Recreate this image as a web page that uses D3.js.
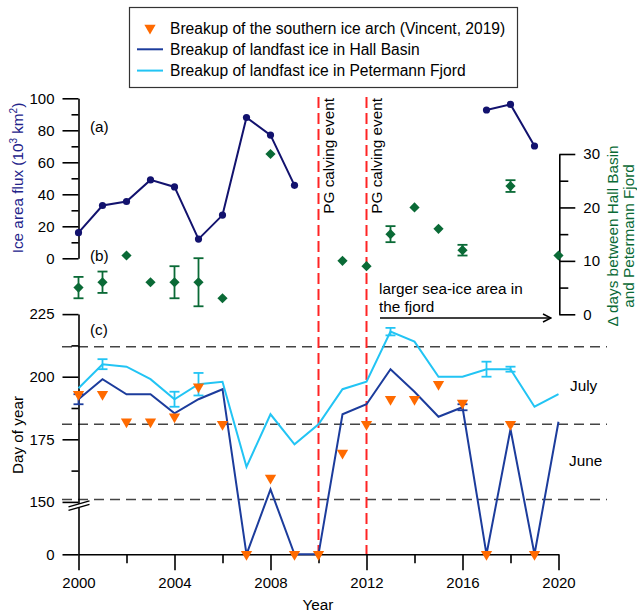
<!DOCTYPE html>
<html>
<head>
<meta charset="utf-8">
<script src="https://cdn.jsdelivr.net/npm/d3@7"></script>
<style>
  body { margin: 0; background: #fff; }
  svg { font-family: "Liberation Sans", Arial, sans-serif; }
</style>
</head>
<body>
<div id="chart"></div>
<script>
var years = d3.range(2000, 2021);

// (a) ice area flux through Hall Basin, 10^3 km2 (null = no data)
var flux = [16, 33, 35.5, 49, 44.6, 12, 27, 88, 77, 45.6,
  null, null, null, null, null, null, null, 92.7, 96.2, 70.2, null];

// (b) delta days between Hall Basin and Petermann Fjord
var deltaDays = [5, 6, 11, 6, 6, 6, 3, null, 30, null,
  null, 10, 9, 15, 20, 16, 12, null, 24, null, 11];
var deltaErr = [2, 2, 0, 0, 3, 4.5, 0, 0, 0, 0,
  0, 0, 0, 1.5, 0, 0, 1, 0, 1.1, 0, 0];

// (c) day of year of breakup (0 = no breakup)
var hallBasin = [191, 199, 193, 193, 185.4, 191, 195, 0, 155, 0,
  0, 185, 189, 203, 194, 184, 187.8, 0, 179, 0, 182];
var hallErr = [2, 0, 0, 0, 0, 0, 0, 0, 0, 0,
  0, 0, 0, 0, 0, 0, 1.2, 0, 0, 0, 0];
var petermann = [195.4, 205, 204, 199, 191, 197, 198, 164, 185, 173,
  181, 195, 198, 218, 214, 200, 200, 203, 203, 188, 193];
var peterErr = [0, 2, 0, 0, 3, 4.5, 0, 0, 0, 0,
  0, 0, 0, 1.5, 0, 0, 0, 3, 1, 0, 0];
var vincent = [193, 193, 182, 182, 184, 196, 181, 0, 159.5, 0,
  0, 169.5, 181, 191, 191, 197, 189.5, 0, 181, 0, null];

var calvingYears = [2010, 2012];
var monthLines = [151, 181, 212];
var legendLabels = ["Breakup of the southern ice arch (Vincent, 2019)",
  "Breakup of landfast ice in Hall Basin",
  "Breakup of landfast ice in Petermann Fjord"];

var navy = "#12126e", hallColor = "#1c3c9c", cyan = "#22c4f4",
  green = "#0a6a36", orange = "#ff6a00", red = "#ff2424";

var width = 637, height = 614;

var svg = d3.select("#chart").append("svg")
  .attr("width", width)
  .attr("height", height);

var x = d3.scaleLinear().domain([2000, 2020]).range([78.5, 558.5]);
var yA = d3.scaleLinear().domain([0, 100]).range([258.3, 98.3]);
var yB = d3.scaleLinear().domain([0, 30]).range([314.3, 154]);
var yC = d3.scaleLinear().domain([0, 150, 225]).range([554.3, 501.9, 314.1]);

function styleAxis(g) {
  g.selectAll("path, line").attr("stroke", "#000").attr("stroke-width", 1.6);
  g.selectAll("text").attr("font-size", 15).attr("font-family", "Liberation Sans, Arial, sans-serif").attr("fill", "#000");
}

// month reference lines
svg.selectAll(".month")
  .data(monthLines)
  .enter().append("line")
    .attr("x1", 62).attr("x2", 607)
    .attr("y1", function(d) { return yC(d); })
    .attr("y2", function(d) { return yC(d); })
    .attr("stroke", "#444")
    .attr("stroke-width", 1.5)
    .attr("stroke-dasharray", "10,6");

// calving events
svg.selectAll(".calving")
  .data(calvingYears)
  .enter().append("line")
    .attr("x1", function(d) { return x(d); })
    .attr("x2", function(d) { return x(d); })
    .attr("y1", 97).attr("y2", 554)
    .attr("stroke", red)
    .attr("stroke-width", 2)
    .attr("stroke-dasharray", "11,5");

svg.selectAll(".calvingLabel")
  .data(calvingYears)
  .enter().append("text")
    .attr("transform", function(d) { return "translate(" + (x(d) + 15) + ",98) rotate(-90)"; })
    .attr("text-anchor", "end")
    .attr("font-size", 15.3)
    .text("PG calving event");

// ---- panel (a)
var axA = svg.append("g").attr("transform", "translate(" + x(2000) + ",0)")
  .call(d3.axisLeft(yA).tickValues([0, 20, 40, 60, 80, 100]).tickSize(16).tickSizeOuter(0).tickPadding(8));
svg.append("g").attr("transform", "translate(" + x(2000) + ",0)")
  .call(d3.axisLeft(yA).tickValues([10, 30, 50, 70, 90]).tickSize(7).tickFormat(""))
  .call(function(g) { g.select(".domain").remove(); })
  .call(styleAxis);
axA.call(styleAxis);

var fluxData = years.map(function(y, i) { return {year: y, value: flux[i]}; });
var lineA = d3.line()
  .defined(function(d) { return d.value != null; })
  .x(function(d) { return x(d.year); })
  .y(function(d) { return yA(d.value); });

svg.append("path")
  .datum(fluxData)
  .attr("d", lineA)
  .attr("fill", "none")
  .attr("stroke", navy)
  .attr("stroke-width", 2);

svg.selectAll(".fluxDot")
  .data(fluxData.filter(function(d) { return d.value != null; }))
  .enter().append("circle")
    .attr("cx", function(d) { return x(d.year); })
    .attr("cy", function(d) { return yA(d.value); })
    .attr("r", 3.6)
    .attr("fill", navy);

svg.append("text")
  .attr("transform", "translate(23,178) rotate(-90)")
  .attr("text-anchor", "middle")
  .attr("font-size", 15.3)
  .attr("fill", "#23238a")
  .html("Ice area flux (10<tspan dy='-6' font-size='10'>3</tspan><tspan dy='6'> km</tspan><tspan dy='-6' font-size='10'>2</tspan><tspan dy='6'>)</tspan>");

// ---- panel (b)
var axB = svg.append("g").attr("transform", "translate(559.3,0)")
  .call(d3.axisRight(yB).tickValues([0, 10, 20, 30]).tickSize(16).tickSizeOuter(0).tickPadding(8));
svg.append("g").attr("transform", "translate(559.3,0)")
  .call(d3.axisRight(yB).tickValues([5, 15, 25]).tickSize(9).tickFormat(""))
  .call(function(g) { g.select(".domain").remove(); })
  .call(styleAxis);
axB.call(styleAxis);

var deltaData = years.map(function(y, i) { return {year: y, value: deltaDays[i], err: deltaErr[i]}; })
  .filter(function(d) { return d.value != null; });

var errB = svg.selectAll(".errB")
  .data(deltaData.filter(function(d) { return d.err > 0; }))
  .enter().append("g")
    .attr("stroke", green)
    .attr("stroke-width", 1.8);
errB.append("line")
  .attr("x1", function(d) { return x(d.year); })
  .attr("x2", function(d) { return x(d.year); })
  .attr("y1", function(d) { return yB(d.value - d.err); })
  .attr("y2", function(d) { return yB(d.value + d.err); });
errB.selectAll(".cap")
  .data(function(d) { return [[d.year, d.value - d.err], [d.year, d.value + d.err]]; })
  .enter().append("line")
    .attr("x1", function(d) { return x(d[0]) - 5; })
    .attr("x2", function(d) { return x(d[0]) + 5; })
    .attr("y1", function(d) { return yB(d[1]); })
    .attr("y2", function(d) { return yB(d[1]); });

svg.selectAll(".diamond")
  .data(deltaData)
  .enter().append("path")
    .attr("d", d3.symbol(d3.symbolSquare).size(52))
    .attr("transform", function(d) { return "translate(" + x(d.year) + "," + yB(d.value) + ") rotate(45)"; })
    .attr("fill", green);

var rTitle = svg.append("text")
  .attr("transform", "translate(618,236) rotate(-90)")
  .attr("text-anchor", "middle")
  .attr("font-size", 15.3)
  .attr("fill", green);
rTitle.append("tspan").attr("x", 0).attr("dy", 0).text("Δ days between Hall Basin");
rTitle.append("tspan").attr("x", 0).attr("dy", 16).text("and Petermann Fjord");

svg.append("defs").append("marker")
  .attr("id", "arrow")
  .attr("viewBox", "0 0 10 10")
  .attr("refX", 9).attr("refY", 5)
  .attr("markerWidth", 10).attr("markerHeight", 10)
  .attr("markerUnits", "userSpaceOnUse")
  .attr("orient", "auto")
  .append("path")
    .attr("d", "M1,1 L9,5 L1,9")
    .attr("fill", "none")
    .attr("stroke", "#000")
    .attr("stroke-width", 1.5);

svg.append("line")
  .attr("x1", 380).attr("x2", 551)
  .attr("y1", 318).attr("y2", 318)
  .attr("stroke", "#000")
  .attr("stroke-width", 1.5)
  .attr("marker-end", "url(#arrow)");

svg.append("text").attr("x", 379).attr("y", 294).attr("font-size", 15.3).text("larger sea-ice area in");
svg.append("text").attr("x", 379).attr("y", 312).attr("font-size", 15.3).text("the fjord");

// ---- panel (c)
var axC = svg.append("g").attr("transform", "translate(" + x(2000) + ",0)")
  .call(d3.axisLeft(yC).tickValues([0, 150, 175, 200, 225]).tickSize(16).tickSizeOuter(0).tickPadding(8));
svg.append("g").attr("transform", "translate(" + x(2000) + ",0)")
  .call(d3.axisLeft(yC).tickValues([162.5, 187.5, 212.5]).tickSize(7).tickFormat(""))
  .call(function(g) { g.select(".domain").remove(); })
  .call(styleAxis);
axC.call(styleAxis);

var axX = svg.append("g").attr("transform", "translate(0," + yC(0) + ")")
  .call(d3.axisBottom(x).tickValues(d3.range(2000, 2021, 2)).tickSize(16).tickSizeOuter(0).tickPadding(7)
    .tickFormat(function(d) { return d % 4 === 0 ? d : ""; }));
axX.selectAll(".tick line").attr("y2", function(d) { return d % 4 === 0 ? 16 : 9; });
axX.call(styleAxis);

// axis break marks
var bx = x(2000);
svg.append("path")
  .attr("d", "M" + (bx - 10) + "," + (yC(150) + 5) + " L" + (bx + 11) + "," + (yC(150) - 1) +
    " L" + (bx + 11) + "," + (yC(150) + 2.5) + " L" + (bx - 10) + "," + (yC(150) + 8.5) + "Z")
  .attr("fill", "#fff");
svg.selectAll(".brk")
  .data([0, 3.5])
  .enter().append("line")
    .attr("x1", bx - 10).attr("x2", bx + 11)
    .attr("y1", function(d) { return yC(150) + 5 + d; })
    .attr("y2", function(d) { return yC(150) - 1 + d; })
    .attr("stroke", "#000")
    .attr("stroke-width", 1.4);

var hallData = years.map(function(y, i) { return {year: y, value: hallBasin[i], err: hallErr[i]}; });
var peterData = years.map(function(y, i) { return {year: y, value: petermann[i], err: peterErr[i]}; });
var vincentData = years.map(function(y, i) { return {year: y, value: vincent[i]}; })
  .filter(function(d) { return d.value != null; });

var lineC = d3.line()
  .x(function(d) { return x(d.year); })
  .y(function(d) { return yC(d.value); });

function errorBars(data, color) {
  var g = svg.append("g")
    .attr("stroke", color)
    .attr("stroke-width", 1.8);
  var e = g.selectAll("g")
    .data(data.filter(function(d) { return d.err > 0; }))
    .enter().append("g");
  e.append("line")
    .attr("x1", function(d) { return x(d.year); })
    .attr("x2", function(d) { return x(d.year); })
    .attr("y1", function(d) { return yC(d.value - d.err); })
    .attr("y2", function(d) { return yC(d.value + d.err); });
  e.selectAll(".cap")
    .data(function(d) { return [[d.year, d.value - d.err], [d.year, d.value + d.err]]; })
    .enter().append("line")
      .attr("x1", function(d) { return x(d[0]) - 5; })
      .attr("x2", function(d) { return x(d[0]) + 5; })
      .attr("y1", function(d) { return yC(d[1]); })
      .attr("y2", function(d) { return yC(d[1]); });
}

svg.append("path")
  .datum(peterData)
  .attr("d", lineC)
  .attr("fill", "none")
  .attr("stroke", cyan)
  .attr("stroke-width", 2);
errorBars(peterData, cyan);

svg.append("path")
  .datum(hallData)
  .attr("d", lineC)
  .attr("fill", "none")
  .attr("stroke", hallColor)
  .attr("stroke-width", 2);
errorBars(hallData, hallColor);

var tri = d3.symbol(d3.symbolTriangle).size(55);
svg.selectAll(".tri")
  .data(vincentData)
  .enter().append("path")
    .attr("d", tri)
    .attr("transform", function(d) { return "translate(" + x(d.year) + "," + yC(d.value) + ") rotate(180)"; })
    .attr("fill", orange);

svg.append("text").attr("x", 570).attr("y", 391).attr("font-size", 15.3).text("July");
svg.append("text").attr("x", 569).attr("y", 466).attr("font-size", 15.3).text("June");

svg.append("text")
  .attr("transform", "translate(23,435) rotate(-90)")
  .attr("text-anchor", "middle")
  .attr("font-size", 15.3)
  .text("Day of year");

svg.append("text")
  .attr("x", 318).attr("y", 610)
  .attr("text-anchor", "middle")
  .attr("font-size", 15.3)
  .text("Year");

// panel letters
svg.selectAll(".panel")
  .data([["(a)", 132], ["(b)", 261], ["(c)", 335]])
  .enter().append("text")
    .attr("x", 90).attr("y", function(d) { return d[1]; })
    .attr("font-size", 15.3)
    .text(function(d) { return d[0]; });

// legend
var legend = svg.append("g");
legend.append("rect")
  .attr("x", 129.5).attr("y", 7.5)
  .attr("width", 388).attr("height", 80)
  .attr("fill", "#fff")
  .attr("stroke", "#333")
  .attr("stroke-width", 1.2);

var rows = legend.selectAll(".row")
  .data(legendLabels)
  .enter().append("g")
    .attr("transform", function(d, i) { return "translate(0," + (28 + i * 21.3) + ")"; });

rows.append("text")
  .attr("x", 170).attr("y", 5.5)
  .attr("font-size", 15.6)
  .text(function(d) { return d; });

rows.filter(function(d, i) { return i === 0; }).append("path")
  .attr("d", tri)
  .attr("transform", "translate(150,0) rotate(180)")
  .attr("fill", orange);

rows.filter(function(d, i) { return i > 0; }).append("line")
  .attr("x1", 137).attr("x2", 163)
  .attr("stroke", function(d, i) { return i === 0 ? hallColor : cyan; })
  .attr("stroke-width", 2);
</script>
</body>
</html>
